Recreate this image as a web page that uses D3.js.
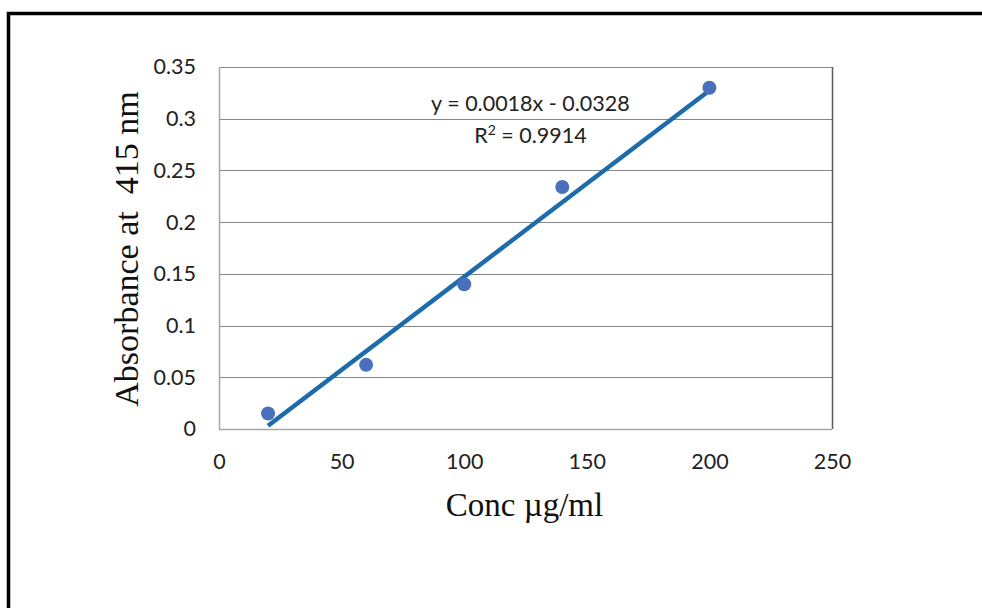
<!DOCTYPE html>
<html>
<head>
<meta charset="utf-8">
<script src="https://cdn.jsdelivr.net/npm/d3@7"></script>
<style>
  body { margin: 0; background: #fff; }
  svg { display: block; }
</style>
</head>
<body>
<div id="chart"></div>
<script>
// data
const concValues = [20, 60, 100, 140, 200];
const absValues = [0.015, 0.062, 0.14, 0.234, 0.33];
const xTicks = [0, 50, 100, 150, 200, 250];
const yTicks = [0, 0.05, 0.1, 0.15, 0.2, 0.25, 0.3, 0.35];
const trendSlope = 0.0018;
const trendIntercept = -0.0328;
const eqLabel = "y = 0.0018x - 0.0328";
const r2Label = "0.9914";

const W = 982, H = 608;
const margin = {top: 67, right: 150, bottom: 179, left: 219};
const width = W - margin.left - margin.right;
const height = H - margin.top - margin.bottom;
const tickFont = "Lato, 'Open Sans', sans-serif";
const titleFont = "'Liberation Serif', 'Times New Roman', serif";

let svg = d3.select('#chart')
  .append('svg')
    .attr("width", W)
    .attr("height", H);

//outer frame, only left and top edges are visible
svg.append("rect")
  .attr("x", 8.5)
  .attr("y", 13.5)
  .attr("width", W + 20)
  .attr("height", H + 20)
  .attr("fill", "none")
  .attr("stroke", "#000")
  .attr("stroke-width", 3.5);

let g = svg.append('g')
  .attr("transform", "translate(" + margin.left + "," + margin.top + ")");

let x = d3.scaleLinear().domain([0, 250]).range([0, width]);
let y = d3.scaleLinear().domain([0, 0.35]).range([height, 0]);

//gridlines
g.append('g')
  .selectAll("line")
  .data(yTicks.filter(d => d > 0))
  .enter().append("line")
    .attr("x1", 0)
    .attr("x2", width)
    .attr("y1", d => Math.round(y(d)) + 0.5)
    .attr("y2", d => Math.round(y(d)) + 0.5)
    .attr("stroke", "#868686")
    .attr("stroke-width", 1.2);

//plot frame
g.append("line").attr("x1", width + 0.5).attr("x2", width + 0.5).attr("y1", 0).attr("y2", height)
  .attr("stroke", "#595959").attr("stroke-width", 1.5);
g.append("line").attr("x1", 0.5).attr("x2", 0.5).attr("y1", 0).attr("y2", height)
  .attr("stroke", "#a6a6a6").attr("stroke-width", 1.5);
g.append("line").attr("x1", 0).attr("x2", width).attr("y1", height + 0.5).attr("y2", height + 0.5)
  .attr("stroke", "#a6a6a6").attr("stroke-width", 1.5);

//x axis
let xaxis = g.append('g')
  .attr("transform", "translate(0," + height + ")")
  .call(d3.axisBottom(x).tickValues(xTicks).tickSize(0).tickPadding(25).tickFormat(d3.format("d")));
xaxis.select(".domain").remove();
xaxis.selectAll(".tick text")
  .attr("font-family", tickFont)
  .attr("font-size", "21.5px")
  .attr("fill", "#222");

//y axis
let yaxis = g.append('g')
  .call(d3.axisLeft(y).tickValues(yTicks).tickSize(0).tickPadding(23).tickFormat(d => d === 0 ? "0" : String(+d.toFixed(2))));
yaxis.select(".domain").remove();
yaxis.selectAll(".tick text")
  .attr("font-family", tickFont)
  .attr("font-size", "21.5px")
  .attr("fill", "#222");

//trend line
let trendX = d3.extent(concValues);
g.append("line")
  .attr("x1", x(trendX[0]))
  .attr("y1", y(trendSlope * trendX[0] + trendIntercept))
  .attr("x2", x(trendX[1]))
  .attr("y2", y(trendSlope * trendX[1] + trendIntercept))
  .attr("stroke", "#1c6cab")
  .attr("stroke-width", 4.5);

//points
g.append('g')
  .selectAll("circle")
  .data(concValues)
  .enter().append("circle")
    .attr("cx", d => x(d))
    .attr("cy", (d, i) => y(absValues[i]))
    .attr("r", 7)
    .attr("fill", "#4a6fbc");

//equation labels
g.append("text")
  .attr("x", x(127))
  .attr("y", 44)
  .attr("text-anchor", "middle")
  .attr("font-family", tickFont)
  .attr("font-size", "21.5px")
  .attr("fill", "#222")
  .text(eqLabel);

let r2 = g.append("text")
  .attr("x", x(127))
  .attr("y", 76)
  .attr("text-anchor", "middle")
  .attr("font-family", tickFont)
  .attr("font-size", "21.5px")
  .attr("fill", "#222");
r2.append("tspan").text("R");
r2.append("tspan").attr("font-size", "14px").attr("dy", -8).text("2");
r2.append("tspan").attr("dy", 8).text(" = " + r2Label);

//axis titles
svg.append("text")
  .attr("x", margin.left + width / 2 - 1)
  .attr("y", 516)
  .attr("text-anchor", "middle")
  .attr("font-family", titleFont)
  .attr("font-size", "33px")
  .attr("fill", "#111")
  .text("Conc µg/ml");

svg.append("text")
  .attr("transform", "translate(138,249) rotate(-90)")
  .attr("text-anchor", "middle")
  .attr("font-family", titleFont)
  .attr("font-size", "34px")
  .attr("fill", "#111")
  .style("white-space", "pre")
  .attr("xml:space", "preserve")
  .text("Absorbance at  415 nm");
</script>
</body>
</html>
